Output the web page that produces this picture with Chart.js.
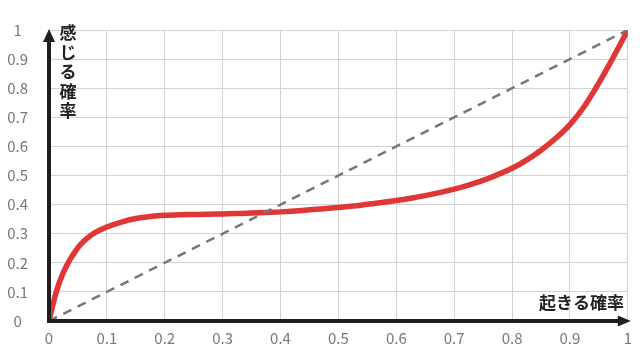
<!DOCTYPE html>
<html>
<head>
<meta charset="utf-8">
<script src="https://cdn.jsdelivr.net/npm/chart.js@4/dist/chart.umd.min.js"></script>
<style>
  html, body { margin: 0; padding: 0; background: #fff; }
  #wrap { width: 640px; height: 351px; }
</style>
</head>
<body>
<div id="wrap"><canvas id="stage"></canvas></div>
<script>
//「起きる確率」(横軸)
var occurProb = [
    0, 0.0125, 0.025, 0.05, 0.075, 0.1, 0.125, 0.15, 0.175, 0.2, 0.225,
    0.25, 0.275, 0.3, 0.325, 0.35, 0.375, 0.4, 0.425, 0.45, 0.475,
    0.5, 0.525, 0.55, 0.575, 0.6, 0.625, 0.65, 0.675, 0.7, 0.725,
    0.75, 0.775, 0.8, 0.825, 0.85, 0.875, 0.9, 0.925, 0.95, 0.975, 1
];
//「感じる確率」(縦軸)
var feltProb = [
    0, 0.1, 0.168, 0.252, 0.298, 0.323, 0.34, 0.352, 0.359, 0.363, 0.365,
    0.366, 0.367, 0.368, 0.369, 0.371, 0.373, 0.375, 0.378, 0.382, 0.386,
    0.39, 0.395, 0.401, 0.407, 0.414, 0.422, 0.431, 0.441, 0.453, 0.467,
    0.483, 0.503, 0.525, 0.553, 0.587, 0.627, 0.675, 0.738, 0.818, 0.907, 1
];
// 比較用の対角線
var diagX = [0, 1];
var diagY = [0, 1];

var xLabel = '起きる確率';
var yLabel = ['感', 'じ', 'る', '確', '率'];

var FONT = '"Noto Sans CJK JP", "Noto Sans", sans-serif';

function toPoints(xs, ys) {
    return xs.map(function (x, i) { return { x: x, y: ys[i] }; });
}

// 目盛りは 0.1 刻み、1.0 は「1」と表示
function tickText(v) {
    return String(Math.round(v * 10) / 10);
}

// 矢印付きの軸と軸ラベル
var arrowAxes = {
    id: 'arrowAxes',
    afterDatasetsDraw: function (chart) {
        var ctx = chart.ctx;
        var a = chart.chartArea;
        var x0 = chart.scales.x.getPixelForValue(0);
        var y0 = chart.scales.y.getPixelForValue(0);
        ctx.save();
        ctx.strokeStyle = '#1e1e1e';
        ctx.fillStyle = '#1e1e1e';
        ctx.lineWidth = 4;
        ctx.beginPath();
        ctx.moveTo(x0, y0 + 2);
        ctx.lineTo(x0, a.top + 10);
        ctx.moveTo(x0 - 2, y0);
        ctx.lineTo(a.right - 8, y0);
        ctx.stroke();
        // 上向き矢印
        ctx.beginPath();
        ctx.moveTo(x0, a.top - 1);
        ctx.lineTo(x0 - 6, a.top + 12);
        ctx.lineTo(x0 + 6, a.top + 12);
        ctx.closePath();
        ctx.fill();
        // 右向き矢印
        ctx.beginPath();
        ctx.moveTo(a.right + 3, y0);
        ctx.lineTo(a.right - 10, y0 - 5.5);
        ctx.lineTo(a.right - 10, y0 + 5.5);
        ctx.closePath();
        ctx.fill();

        ctx.font = 'bold 17px ' + FONT;
        ctx.textAlign = 'center';
        ctx.textBaseline = 'middle';
        ctx.fillStyle = '#222';
        yLabel.forEach(function (ch, i) {
            ctx.fillText(ch, 68, 33 + i * 19.5);
        });
        ctx.textAlign = 'right';
        ctx.fillText(xLabel, 624, 303);
        ctx.restore();
    }
};

var canvas = document.getElementById('stage');
var chart = new Chart(canvas, {
    type: 'line',
    data: {
        datasets: [
            {
                data: toPoints(diagX, diagY),
                borderColor: '#777',
                borderWidth: 2.5,
                borderDash: [9, 7],
                pointRadius: 0,
                fill: false
            },
            {
                data: toPoints(occurProb, feltProb),
                borderColor: '#e03636',
                borderWidth: 5.5,
                cubicInterpolationMode: 'monotone',
                borderCapStyle: 'round',
                borderJoinStyle: 'round',
                pointRadius: 0,
                fill: false
            }
        ]
    },
    options: {
        responsive: true,
        maintainAspectRatio: false,
        animation: false,
        layout: { padding: { left: 0, top: 21, right: 10, bottom: 0 } },
        plugins: {
            legend: { display: false },
            tooltip: { enabled: false }
        },
        scales: {
            x: {
                type: 'linear',
                min: 0,
                max: 1,
                border: { display: false },
                grid: { color: '#d2d2d2', lineWidth: 1, drawTicks: false },
                ticks: {
                    stepSize: 0.1,
                    padding: 8,
                    color: '#777',
                    font: { family: FONT, size: 15 },
                    maxRotation: 0,
                    callback: tickText
                },
                afterFit: function (s) { s.height = 29; }
            },
            y: {
                min: 0,
                max: 1,
                border: { display: false },
                grid: { color: '#d2d2d2', lineWidth: 1, drawTicks: false },
                ticks: {
                    stepSize: 0.1,
                    padding: 21,
                    crossAlign: 'center',
                    color: '#777',
                    font: { family: FONT, size: 15 },
                    callback: tickText
                },
                afterFit: function (s) { s.width = 49; }
            }
        }
    },
    plugins: [arrowAxes]
});
</script>
</body>
</html>
